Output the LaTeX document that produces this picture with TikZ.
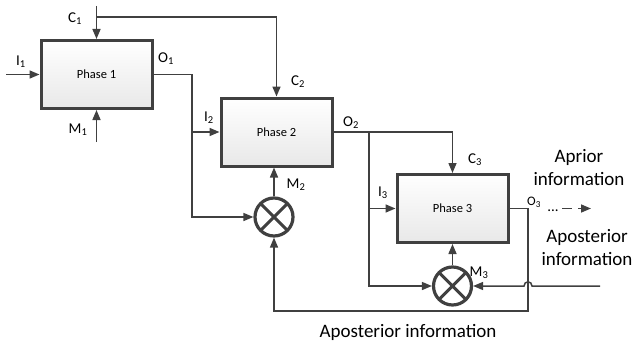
\documentclass[tikz,border=0pt]{standalone}
\usepackage{fontspec}
\setmainfont{Carlito}
\usepackage{xcolor}
\usetikzlibrary{positioning, arrows.meta, calc}
\definecolor{linegray}{HTML}{404040}

\begin{document}
\begin{tikzpicture}[
      x=1pt, y=-1pt,
      font=\fontsize{15}{18}\selectfont,
      phase/.style={draw=linegray, line width=3pt, top color=white, bottom color=gray!18, minimum width=111pt, minimum height=68pt, font=\fontsize{12.5}{14}\selectfont},
      mult/.style={circle, draw=linegray, line width=3.2pt, fill=white, minimum size=38pt, inner sep=0pt,
        path picture={\draw[linegray, line width=3pt] (path picture bounding box.north east) -- (path picture bounding box.south west)
          (path picture bounding box.north west) -- (path picture bounding box.south east);}},
      link/.style={draw=linegray, line width=1.5pt},
      arr/.style={link, -{Triangle[length=10pt, width=8pt]}},
      big/.style={font=\fontsize{19}{23}\selectfont, align=center}
    ]
    \useasboundingbox (0,0) rectangle (634,345);
    %% phases and multipliers
    \node[phase] (p1) at (96.5,74.5) {Phase 1};
    \node[phase] (p2) at (276.5,132) {Phase 2};
    \node[phase] (p3) at (452.5,208.5) {Phase 3};
    \node[mult] (m2) at (274,217) {};
    \node[mult] (m3) at (452.5,286) {};
    %% junctions
    \coordinate (c1in) at (96.5,6);
    \coordinate (c1j) at (96.5,17);
    \coordinate (i1in) at (6,74.5);
    \coordinate (m1in) at (96.5,142);
    \coordinate (o1j) at (192,217);
    \coordinate (o2j) at (369,132);
    \coordinate (o3j) at (528,208.5);
    \coordinate (fb) at (528,311);
    \coordinate (apin) at (600,286);
    \coordinate (hopr) at (532,286);
    \coordinate (hopl) at (524,286);
    \coordinate (aout) at (591,208.5);
    %% phase 1
    \draw[arr] (c1in) -- (p1);
    \draw[arr] (i1in) -- (p1);
    \draw[arr] (m1in) -- (p1);
    \draw[arr] (c1j) -| (p2);
    \draw[arr] (p1.east) -| (o1j) -- (m2);
    %% phase 2
    \draw[arr] (o1j |- p2) -- (p2);
    \draw[arr] (m2) -- (m2 |- p2.south);
    \draw[arr] (p2.east) -| (p3);
    \draw[arr] (o2j) |- (m3);
    %% phase 3
    \draw[arr] (o2j |- p3) -- (p3);
    \draw[arr] (m3) -- (p3);
    \draw[arr] (p3.east) -- (o3j) -- (fb) -| (m2);
    \draw[arr] (apin) -- (hopr) .. controls +(0,-5.5) and +(0,-5.5) .. (hopl) -- (m3);
    \node[anchor=base] (dots) at (553,211) {...};
    \draw[arr, dash pattern=on 10pt off 6pt] (dots.east |- o3j) -- (aout);
    %% labels
    \node at (75,19) {C\textsubscript{1}};
    \node at (21,62) {I\textsubscript{1}};
    \node at (166,59) {O\textsubscript{1}};
    \node at (78,130) {M\textsubscript{1}};
    \node at (298,82) {C\textsubscript{2}};
    \node at (209,118) {I\textsubscript{2}};
    \node at (351,123) {O\textsubscript{2}};
    \node at (296,185) {M\textsubscript{2}};
    \node at (475,160) {C\textsubscript{3}};
    \node at (383,193) {I\textsubscript{3}};
    \node[font=\fontsize{13}{15}\selectfont] at (534,202) {O\textsubscript{3}};
    \node at (479,273) {M\textsubscript{3}};
    \node[big] (apr) at (579,168) {Aprior\\information};
    \node[big] (apo) at (587,248) {Aposterior\\information};
    \node[big] (apb) at (408,332) {Aposterior information};
  \end{tikzpicture}
\end{document}
